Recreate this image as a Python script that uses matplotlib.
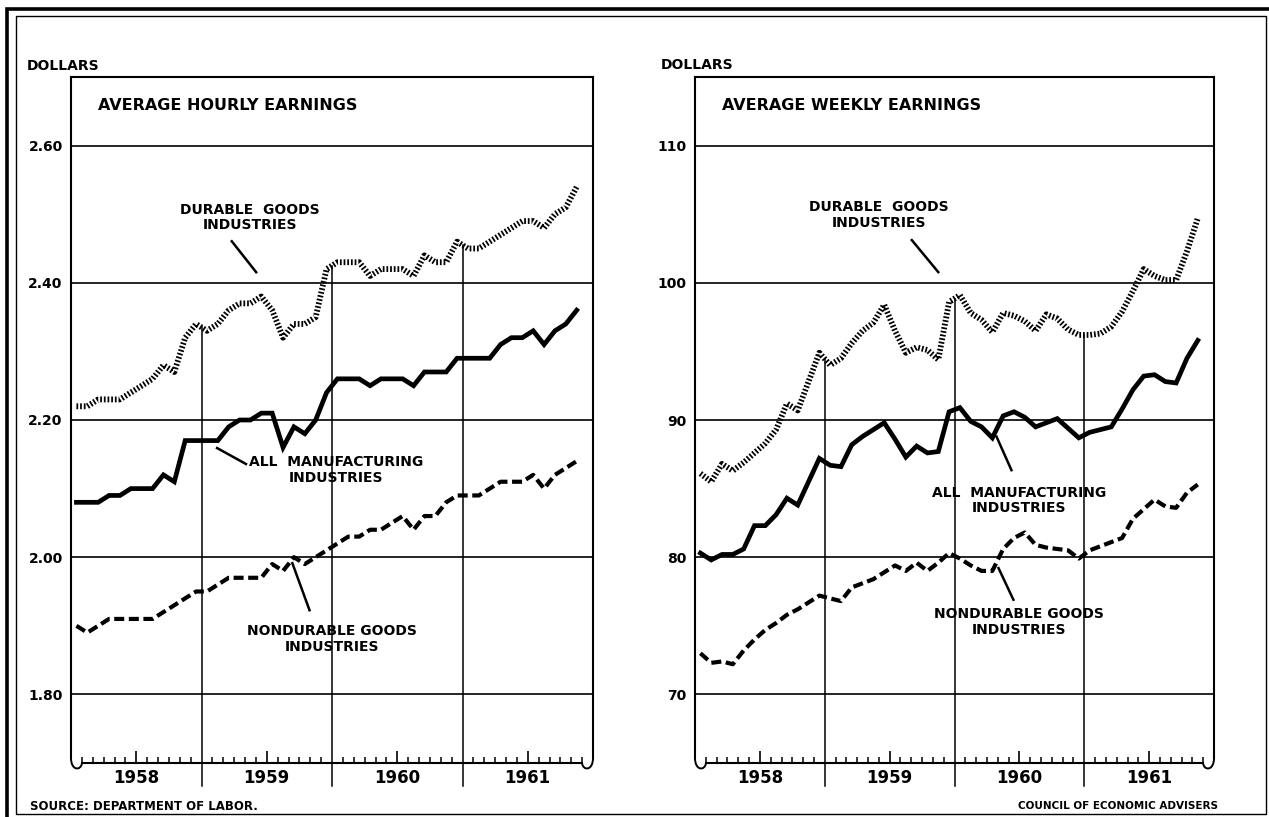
"""Average hourly and weekly earnings, 1958-61 — two panel line chart."""
import numpy as np
import matplotlib
matplotlib.use("Agg")
import matplotlib.pyplot as plt
import matplotlib.transforms as mtransforms
from matplotlib.path import Path
from matplotlib.patches import PathPatch, Rectangle

plt.rcParams["font.family"] = ["DejaVu Sans"]
plt.rcParams["font.weight"] = "bold"

# monthly data, Jan 1958 .. Nov 1961
YEARS = [1958, 1959, 1960, 1961]
N_MONTHS = 47

hourly_durable = [
    2.22, 2.22, 2.23, 2.23, 2.23, 2.24, 2.25, 2.26, 2.28, 2.27, 2.32, 2.34,
    2.33, 2.34, 2.36, 2.37, 2.37, 2.38, 2.36, 2.32, 2.34, 2.34, 2.35, 2.42,
    2.43, 2.43, 2.43, 2.41, 2.42, 2.42, 2.42, 2.41, 2.44, 2.43, 2.43, 2.46,
    2.45, 2.45, 2.46, 2.47, 2.48, 2.49, 2.49, 2.48, 2.50, 2.51, 2.54,
]
hourly_all = [
    2.08, 2.08, 2.08, 2.09, 2.09, 2.10, 2.10, 2.10, 2.12, 2.11, 2.17, 2.17,
    2.17, 2.17, 2.19, 2.20, 2.20, 2.21, 2.21, 2.16, 2.19, 2.18, 2.20, 2.24,
    2.26, 2.26, 2.26, 2.25, 2.26, 2.26, 2.26, 2.25, 2.27, 2.27, 2.27, 2.29,
    2.29, 2.29, 2.29, 2.31, 2.32, 2.32, 2.33, 2.31, 2.33, 2.34, 2.36,
]
hourly_nondurable = [
    1.90, 1.89, 1.90, 1.91, 1.91, 1.91, 1.91, 1.91, 1.92, 1.93, 1.94, 1.95,
    1.95, 1.96, 1.97, 1.97, 1.97, 1.97, 1.99, 1.98, 2.00, 1.99, 2.00, 2.01,
    2.02, 2.03, 2.03, 2.04, 2.04, 2.05, 2.06, 2.04, 2.06, 2.06, 2.08, 2.09,
    2.09, 2.09, 2.10, 2.11, 2.11, 2.11, 2.12, 2.10, 2.12, 2.13, 2.14,
]

weekly_durable = [
    86.1, 85.5, 86.8, 86.3, 86.9, 87.6, 88.3, 89.3, 91.2, 90.7, 92.8, 94.9,
    94.0, 94.5, 95.6, 96.5, 97.1, 98.4, 96.5, 94.9, 95.3, 95.1, 94.4, 98.6,
    99.1, 97.8, 97.3, 96.4, 97.8, 97.6, 97.2, 96.5, 97.7, 97.4, 96.6, 96.2,
    96.2, 96.3, 96.8, 97.9, 99.4, 101.0, 100.5, 100.2, 100.2, 102.3, 104.7,
]
weekly_all = [
    80.3, 79.8, 80.2, 80.2, 80.6, 82.3, 82.3, 83.1, 84.3, 83.8, 85.5, 87.2,
    86.7, 86.6, 88.2, 88.8, 89.3, 89.8, 88.6, 87.3, 88.1, 87.6, 87.7, 90.6,
    90.9, 89.9, 89.5, 88.7, 90.3, 90.6, 90.2, 89.5, 89.8, 90.1, 89.4, 88.7,
    89.1, 89.3, 89.5, 90.8, 92.2, 93.2, 93.3, 92.8, 92.7, 94.5, 95.8,
]
weekly_nondurable = [
    73.0, 72.3, 72.4, 72.2, 73.2, 74.0, 74.7, 75.2, 75.8, 76.2, 76.7, 77.2,
    77.0, 76.8, 77.8, 78.1, 78.4, 78.9, 79.4, 79.0, 79.6, 79.0, 79.6, 80.3,
    79.9, 79.4, 79.0, 79.0, 80.6, 81.4, 81.8, 80.9, 80.7, 80.6, 80.5, 79.9,
    80.5, 80.8, 81.1, 81.4, 82.8, 83.5, 84.2, 83.7, 83.6, 84.7, 85.3,
]

hourly_ticks = [1.80, 2.00, 2.20, 2.40, 2.60]
hourly_ticklabels = ["1.80", "2.00", "2.20", "2.40", "2.60"]
weekly_ticks = [70, 80, 90, 100, 110]
weekly_ticklabels = ["70", "80", "90", "100", "110"]

LABEL_DURABLE = "DURABLE  GOODS\nINDUSTRIES"
LABEL_ALL = "ALL  MANUFACTURING\nINDUSTRIES"
LABEL_NONDURABLE = "NONDURABLE GOODS\nINDUSTRIES"

W, H = 1269, 817
months = YEARS[0] + (np.arange(N_MONTHS) + 0.5) / 12.0


def _squiggles(ax, fig):
    """Little broken-axis curls at both ends of the time axis."""
    bb = ax.get_position()
    wpx, hpx = bb.width * W, bb.height * H
    left = [(0, 5), (0, -8), (10, -8), (11, 0)]
    right = [(-11, 0), (-10, -8), (0, -8), (0, 5)]
    codes = [Path.MOVETO, Path.CURVE4, Path.CURVE4, Path.CURVE4]
    for verts, x0 in ((left, 0.0), (right, 1.0)):
        tr = mtransforms.Affine2D().scale(1 / wpx, 1 / hpx).translate(x0, 0) + ax.transAxes
        ax.add_patch(PathPatch(Path(verts, codes), transform=tr, fill=False,
                               lw=1.4, color="black", clip_on=False))
    return wpx, hpx


def draw_panel(fig, rect, title, durable, allmfg, nondur, ticks, ticklabels,
               ylim, notes):
    ax = fig.add_axes(rect)
    ax.set_xlim(YEARS[0], YEARS[-1] + 1)
    ax.set_ylim(*ylim)

    for t in ticks:
        ax.axhline(t, color="black", lw=1.2, zorder=1)

    ax.plot(months, durable, color="black", lw=4.2,
            linestyle=(0, (0.3, 0.33)), dash_capstyle="butt", zorder=3)
    ax.plot(months, allmfg, color="black", lw=3.4,
            solid_joinstyle="miter", zorder=3)
    ax.plot(months, nondur, color="black", lw=3.0,
            linestyle=(0, (2.4, 1.1)), dash_capstyle="butt", zorder=3)

    # year separators, running from the durable goods line to below the axis
    blend = mtransforms.blended_transform_factory(ax.transData, ax.transAxes)
    for yr in YEARS[1:]:
        v = np.interp(yr, months, durable)
        frac = (v - ylim[0]) / (ylim[1] - ylim[0])
        ax.plot([yr, yr], [-0.033, frac], transform=blend, color="black",
                lw=1.1, clip_on=False, zorder=2)

    # axis styling
    wpx, hpx = _squiggles(ax, fig)
    for s in ("left", "right", "top", "bottom"):
        ax.spines[s].set_linewidth(1.5)
    dy = 5 / hpx * (ylim[1] - ylim[0])
    ax.spines["left"].set_bounds(ylim[0] + dy, ylim[1])
    ax.spines["right"].set_bounds(ylim[0] + dy, ylim[1])
    dx = 11 / wpx * (YEARS[-1] + 1 - YEARS[0])
    ax.spines["bottom"].set_bounds(YEARS[0] + dx, YEARS[-1] + 1 - dx)

    ax.set_yticks(ticks, ticklabels)
    ax.tick_params(axis="y", length=0, pad=6, labelsize=10)
    ax.set_xticks([y + 0.5 for y in YEARS], [str(y) for y in YEARS])
    minor = [y + m / 12 for y in YEARS for m in range(1, 12) if m != 6]
    ax.set_xticks(minor, minor=True)
    ax.tick_params(axis="x", which="major", direction="in", length=9,
                   width=1.2, pad=4.5, labelsize=12)
    ax.tick_params(axis="x", which="minor", direction="in", length=4.5,
                   width=1.1)

    ax.text(0.052, 0.959, title, transform=ax.transAxes, fontsize=11.5,
            ha="left", va="center")

    for label, (cx, cy), (x0, y0, x1, y1) in notes:
        ax.text(cx, cy, label, ha="center", va="center", fontsize=10,
                linespacing=1.15, zorder=4)
        ax.plot([x0, x1], [y0, y1], color="black", lw=1.8,
                solid_capstyle="butt", zorder=4)
    return ax


fig = plt.figure(figsize=(W / 100, H / 100), dpi=100)

draw_panel(
    fig, [71 / W, 1 - 763 / H, 522 / W, 686 / H], "AVERAGE HOURLY EARNINGS",
    hourly_durable, hourly_all, hourly_nondurable,
    hourly_ticks, hourly_ticklabels, (1.70, 2.70),
    [
        (LABEL_DURABLE, (1959.37, 2.495), (1959.226, 2.462, 1959.425, 2.414)),
        (LABEL_ALL, (1960.03, 2.127), (1959.111, 2.160, 1959.349, 2.135)),
        (LABEL_NONDURABLE, (1960.00, 1.881), (1959.693, 1.993, 1959.831, 1.921)),
    ],
)
draw_panel(
    fig, [695 / W, 1 - 763 / H, 519 / W, 686 / H], "AVERAGE WEEKLY EARNINGS",
    weekly_durable, weekly_all, weekly_nondurable,
    weekly_ticks, weekly_ticklabels, (65, 115),
    [
        (LABEL_DURABLE, (1959.42, 104.95), (1959.665, 103.18, 1959.881, 100.71)),
        (LABEL_ALL, (1960.50, 84.12), (1960.32, 88.87, 1960.443, 86.26)),
        (LABEL_NONDURABLE, (1960.50, 75.26), (1960.335, 79.29, 1960.458, 76.82)),
    ],
)

fig.text(27 / W, 1 - 66 / H, "DOLLARS", fontsize=10, va="center")
fig.text(661 / W, 1 - 65 / H, "DOLLARS", fontsize=10, va="center")
fig.text(30 / W, 1 - 807 / H, "SOURCE: DEPARTMENT OF LABOR.", fontsize=8.5,
         va="center")
fig.text(1218 / W, 1 - 806 / H, "COUNCIL OF ECONOMIC ADVISERS", fontsize=7.5,
         ha="right", va="center")

# page frame: heavy outer rule plus a thin inner one
fig.add_artist(Rectangle((7 / W, -0.1), 1.2, 1 - 9 / H + 0.1,
                         transform=fig.transFigure, fill=False, lw=2.6,
                         color="black"))
fig.add_artist(Rectangle((16 / W, 1 - 814 / H), 1250 / W, 798 / H,
                         transform=fig.transFigure, fill=False, lw=1.0,
                         color="black"))

fig.savefig("out.png", dpi=100, facecolor="white")
